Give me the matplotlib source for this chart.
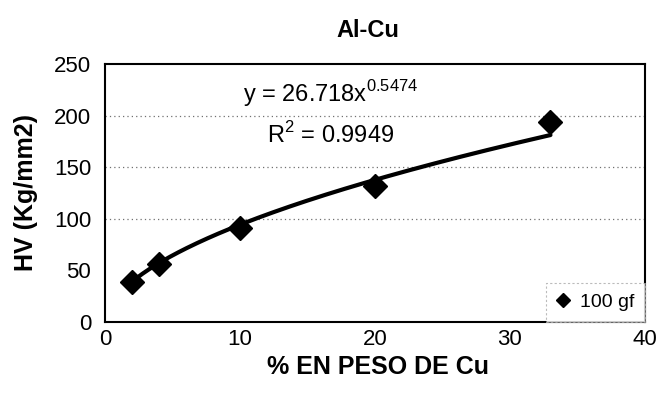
import numpy as np
import matplotlib
matplotlib.use("Agg")
import matplotlib.pyplot as plt

plt.rcParams['font.family'] = ['Liberation Sans', 'DejaVu Sans']
plt.rcParams['mathtext.fontset'] = 'custom'
plt.rcParams['mathtext.rm'] = 'Liberation Sans'

# Hardness vs copper content (100 gf load)
cu_wt = [2, 4, 10, 20, 33]
hv = [39, 56, 91, 132, 194]
fit_a = 26.718
fit_b = 0.5474
r2 = 0.9949
x_ticks = [0, 10, 20, 30, 40]
y_ticks = [0, 50, 100, 150, 200, 250]
grid_levels = [100, 150, 200]

fig = plt.figure(figsize=(6.59, 4.05), dpi=100)
ax = fig.add_axes([0.1593, 0.205, 0.8194, 0.637])

# Power-law trendline
xf = np.linspace(min(cu_wt), max(cu_wt), 200)
ax.plot(xf, fit_a * xf ** fit_b, color='black', lw=3.0, zorder=2,
        solid_capstyle='round')
ax.plot(cu_wt, hv, linestyle='none', marker='D', ms=12, color='black',
        label='100 gf', zorder=3)

ax.set_xlim(0, 40)
ax.set_ylim(0, 250)
ax.set_xticks(x_ticks)
ax.set_yticks(y_ticks)
ax.tick_params(length=0, labelsize=16)
ax.tick_params(axis='y', pad=10)
ax.tick_params(axis='x', pad=5)
for lvl in grid_levels:
    ax.axhline(lvl, linestyle=(0, (1, 2.5)), color='#707070', lw=0.9, zorder=1)
for s in ax.spines.values():
    s.set_linewidth(1.5)
    s.set_color('black')

fig.text(0.558, 0.925, 'Al-Cu', fontsize=17, fontweight='bold',
         ha='center', va='center')
fig.text(0.574, 0.095, '% EN PESO DE Cu', fontsize=18, fontweight='bold',
         ha='center', va='center')
fig.text(0.040, 0.525, 'HV (Kg/mm2)', fontsize=18, fontweight='bold',
         ha='center', va='center', rotation=90)

ax.text(16.7, 221, r'y = 26.718x$^{\mathregular{0.5474}}$', fontsize=17,
        ha='center', va='center')
ax.text(16.7, 181, r'R$^{\mathregular{2}}$ = ' + f'{r2:.4f}', fontsize=17,
        ha='center', va='center')

leg = ax.legend(loc='lower right', bbox_to_anchor=(1.0, 0.0), fontsize=14,
                frameon=True, fancybox=False, handlelength=0.7,
                handletextpad=0.5, borderpad=0.55, borderaxespad=0.0,
                markerscale=0.6)
leg.get_frame().set_edgecolor('#aaaaaa')
leg.get_frame().set_linestyle((0, (2, 2)))
leg.get_frame().set_linewidth(0.8)

fig.savefig('out.png', dpi=100)
